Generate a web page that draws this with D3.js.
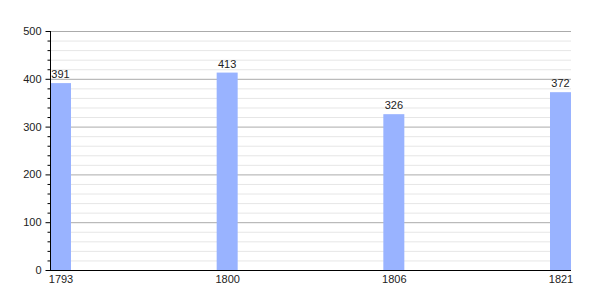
<!DOCTYPE html>
<html><head><meta charset="utf-8">
<script src="https://cdn.jsdelivr.net/npm/d3@7"></script>
<style>body{margin:0;background:#fff}svg{display:block}text{font-family:"Liberation Sans",Arial,sans-serif;font-size:11px;fill:#222}</style>
</head><body><svg id="c" width="600" height="300"></svg>
<script>
const years = ["1793","1800","1806","1821"];
const population = [391,413,326,372];
const yTicks = [0,100,200,300,400,500];

const svg = d3.select("#c");
const x0 = 50, x1 = 571, yTop = 31, yBot = 270;
const bw = 21;
const x = d3.scalePoint().domain(years).range([x0 + bw/2, x1 - bw/2]);
const y = d3.scaleLinear().domain([0,500]).range([yBot, yTop]);

const minor = d3.range(0, 501, 20).filter(v => v % 100 !== 0);
svg.append("g").selectAll("line").data(minor).join("line")
  .attr("x1", x0).attr("x2", x1).attr("y1", d => y(d)+0.5).attr("y2", d => y(d)+0.5)
  .attr("stroke", "#e6e6e6").attr("stroke-width", 1);
svg.append("g").selectAll("line").data(yTicks.filter(v=>v>0)).join("line")
  .attr("x1", x0).attr("x2", x1).attr("y1", d => y(d)+0.5).attr("y2", d => y(d)+0.5)
  .attr("stroke", "#ababab").attr("stroke-width", 1);

svg.append("g").selectAll("rect").data(years).join("rect")
  .attr("x", d => x(d) - bw/2).attr("width", bw)
  .attr("y", (d,i) => y(population[i])).attr("height", (d,i) => yBot - y(population[i]))
  .attr("fill", "#99b3ff");

svg.append("g").selectAll("text").data(years).join("text")
  .attr("x", d => x(d)).attr("y", (d,i) => y(population[i]) - 5)
  .attr("text-anchor", "middle").text((d,i) => population[i]);

// y axis
const ya = svg.append("g").attr("transform", `translate(${x0+0.5},0)`);
ya.call(d3.axisLeft(y).tickValues(yTicks).tickSize(5).tickPadding(4).tickFormat(d3.format("d")));
ya.append("g").selectAll("line").data(minor).join("line")
  .attr("x1", -3).attr("x2", 0).attr("y1", d => y(d)+0.5).attr("y2", d => y(d)+0.5)
  .attr("stroke", "#000");
ya.select(".domain").attr("d", `M0,${yTop}V${yBot}`).attr("stroke", "#000");
ya.selectAll(".tick line").attr("stroke", "#000");
ya.selectAll("text").attr("font-size", 11).attr("font-family", "Liberation Sans, Arial, sans-serif").attr("fill", "#222");

// x axis
const xa = svg.append("g").attr("transform", `translate(0,${yBot+0.5})`);
xa.call(d3.axisBottom(x).tickSize(0).tickPadding(5));
xa.select(".domain").attr("d", `M${x0},0H${x1}`).attr("stroke", "#000");
xa.selectAll("text").attr("font-size", 11).attr("font-family", "Liberation Sans, Arial, sans-serif").attr("fill", "#222");
</script></body></html>
